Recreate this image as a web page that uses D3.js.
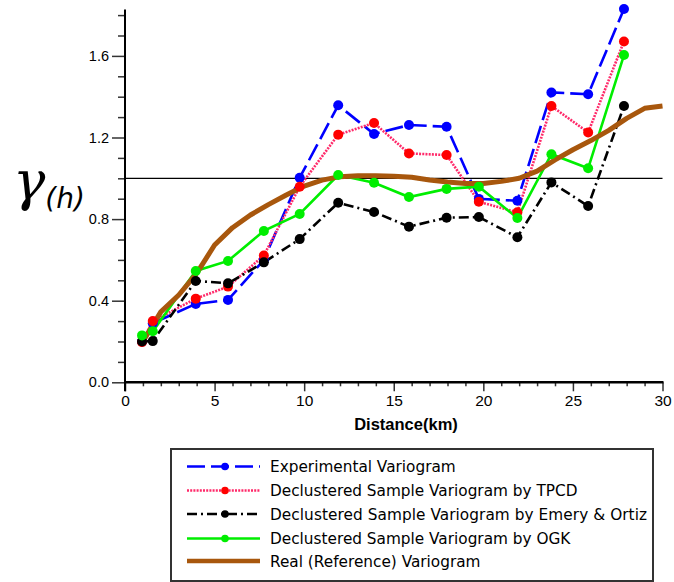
<!DOCTYPE html>
<html><head><meta charset="utf-8">
<script src="https://cdn.jsdelivr.net/npm/d3@7"></script>
<style>body{margin:0;background:#fff}svg{display:block}</style>
</head><body>
<svg id="c" width="674" height="582"></svg>
<script>
const lags = [0.95, 1.55, 3.95, 5.75, 7.75, 9.75, 11.9, 13.9, 15.85, 17.95, 19.75, 21.9, 23.8, 25.85, 27.85];
const experimental = [0.20, 0.29, 0.384, 0.404, 0.60, 1.003, 1.358, 1.217, 1.261, 1.253, 0.899, 0.89, 1.421, 1.412, 1.83];
const tpcd = [0.197, 0.30, 0.41, 0.469, 0.622, 0.959, 1.214, 1.271, 1.122, 1.114, 0.885, 0.833, 1.354, 1.225, 1.671];
const emeryOrtiz = [0.20, 0.202, 0.497, 0.485, 0.588, 0.702, 0.88, 0.835, 0.763, 0.807, 0.81, 0.711, 0.98, 0.864, 1.354];
const ogk = [0.230, 0.25, 0.546, 0.595, 0.742, 0.825, 1.016, 0.978, 0.908, 0.948, 0.959, 0.805, 1.118, 1.049, 1.604];
const realX = [1, 2, 3, 4, 5, 6, 7, 8, 9, 10, 11, 12, 13, 14, 15, 16, 17, 18, 19, 20, 21, 22, 23, 24, 25, 26, 27, 28, 29, 30];
const realY = [0.20, 0.345, 0.428, 0.534, 0.673, 0.758, 0.82, 0.871, 0.918, 0.962, 0.991, 1.008, 1.012, 1.012, 1.01, 1.005, 0.992, 0.982, 0.975, 0.975, 0.985, 1.0, 1.035, 1.09, 1.14, 1.185, 1.235, 1.294, 1.343, 1.354];
const xTicks = [0, 5, 10, 15, 20, 25, 30];
const yTicks = [0.0, 0.4, 0.8, 1.2, 1.6];
const seriesNames = ["Experimental Variogram", "Declustered Sample Variogram by TPCD", "Declustered Sample Variogram by Emery & Ortiz", "Declustered Sample Variogram by OGK", "Real (Reference) Variogram"];

const svg = d3.select("#c");
const x = d3.scaleLinear().domain([0, 30]).range([125, 662.5]);
const y = d3.scaleLinear().domain([0, 1.8]).range([382.3, 15.1]);

const styles = [
  {color: "#0000ff", mcolor: "#0000ff", dash: "18,6", w: 2.6, data: experimental},
  {color: "#ff2a6a", mcolor: "#ff0000", dash: "2,1.2", w: 2.6, data: tpcd},
  {color: "#000000", mcolor: "#000000", dash: "10,4,2,4", w: 2.6, data: emeryOrtiz},
  {color: "#00ee00", mcolor: "#00ee00", dash: null, w: 2.6, data: ogk}
];
const brown = "#a8570d";

// axes
const gx = svg.append("g").attr("transform", `translate(0,${y(0)})`)
  .call(d3.axisBottom(x).tickValues(xTicks).tickFormat(d3.format("d")).tickSize(9).tickPadding(4));
gx.select(".domain").remove();
svg.append("g").attr("transform", `translate(0,${y(0)})`)
  .call(d3.axisBottom(x).tickValues(d3.range(1, 30).filter(d => d % 5 !== 0)).tickFormat("").tickSize(4))
  .select(".domain").remove();
const gy = svg.append("g").attr("transform", `translate(${x(0)},0)`)
  .call(d3.axisLeft(y).tickValues(yTicks).tickFormat(d3.format(".1f")).tickSize(13).tickPadding(3));
gy.select(".domain").remove();
svg.append("g").attr("transform", `translate(${x(0)},0)`)
  .call(d3.axisLeft(y).tickValues([0.1,0.2,0.3,0.5,0.6,0.7,0.9,1.0,1.1,1.3,1.4,1.5,1.7,1.8]).tickFormat("").tickSize(7))
  .select(".domain").remove();
svg.selectAll(".tick line").attr("stroke", "#333").attr("stroke-width", 1.5);
svg.selectAll(".tick text").attr("font-family", "Liberation Sans, Arial, sans-serif").attr("font-size", 15.5).attr("fill", "#000");
gy.selectAll(".tick text").attr("font-size", 14.5);

// axis lines
svg.append("line").attr("x1", x(0)).attr("x2", x(0)).attr("y1", 9.5).attr("y2", y(0) + 9)
  .attr("stroke", "#000").attr("stroke-width", 2);
svg.append("line").attr("x1", x(0) - 1).attr("x2", x(30) + 1).attr("y1", y(0)).attr("y2", y(0))
  .attr("stroke", "#000").attr("stroke-width", 2.5);

// reference line at 1.0
svg.append("line").attr("x1", x(0)).attr("x2", x(30)).attr("y1", y(1)).attr("y2", y(1))
  .attr("stroke", "#000").attr("stroke-width", 1.2);

const line = d3.line().x(d => x(d[0])).y(d => y(d[1]));
styles.forEach(s => {
  svg.append("path").datum(lags.map((l, i) => [l, s.data[i]]))
    .attr("d", line).attr("fill", "none").attr("stroke", s.color)
    .attr("stroke-width", s.w).attr("stroke-dasharray", s.dash);
});
svg.append("path").datum(realX.map((v, i) => [v, realY[i]]))
  .attr("d", line).attr("fill", "none").attr("stroke", brown).attr("stroke-width", 5)
  .attr("stroke-linejoin", "round");
styles.forEach(s => {
  svg.append("g").selectAll("circle").data(lags.map((l, i) => [l, s.data[i]])).join("circle")
    .attr("cx", d => x(d[0])).attr("cy", d => y(d[1])).attr("r", 5).attr("fill", s.mcolor);
});

// labels
svg.append("text").attr("x", 406).attr("y", 430).attr("text-anchor", "middle")
  .attr("font-family", "Liberation Sans, Arial, sans-serif").attr("font-size", 16.5).attr("font-weight", "bold")
  .text("Distance(km)");
const yl = svg.append("text").attr("x", 13).attr("y", 200).attr("font-family", "DejaVu Serif, serif").attr("font-style", "italic");
yl.append("tspan").attr("font-size", 54).text("γ");
yl.append("tspan").attr("font-size", 28).attr("dy", 8).attr("font-family", "DejaVu Sans, sans-serif").text("(h)");

// legend
svg.append("rect").attr("x", 171).attr("y", 449).attr("width", 482).attr("height", 132)
  .attr("fill", "#fff").attr("stroke", "#333").attr("stroke-width", 2);
const rowsY = [466.5, 490.5, 514, 538.5, 561];
const all = styles.concat([{color: brown, dash: null, w: 5}]);
all.forEach((s, i) => {
  const g = svg.append("g");
  g.append("line").attr("x1", 187).attr("x2", 260).attr("y1", rowsY[i]).attr("y2", rowsY[i])
    .attr("stroke", s.color).attr("stroke-width", i === 4 ? 4.5 : 2.5).attr("stroke-dasharray", s.dash);
  if (i < 4) g.append("circle").attr("cx", 225).attr("cy", rowsY[i]).attr("r", 3.8).attr("fill", s.mcolor);
  g.append("text").attr("x", 270).attr("y", rowsY[i] + 5.5)
    .attr("font-family", "DejaVu Sans, Verdana, sans-serif").attr("font-size", 15.3).attr("fill", "#000")
    .attr("textLength", i === 2 ? 377 : null)
    .text(seriesNames[i]);
});
</script>
</body></html>
